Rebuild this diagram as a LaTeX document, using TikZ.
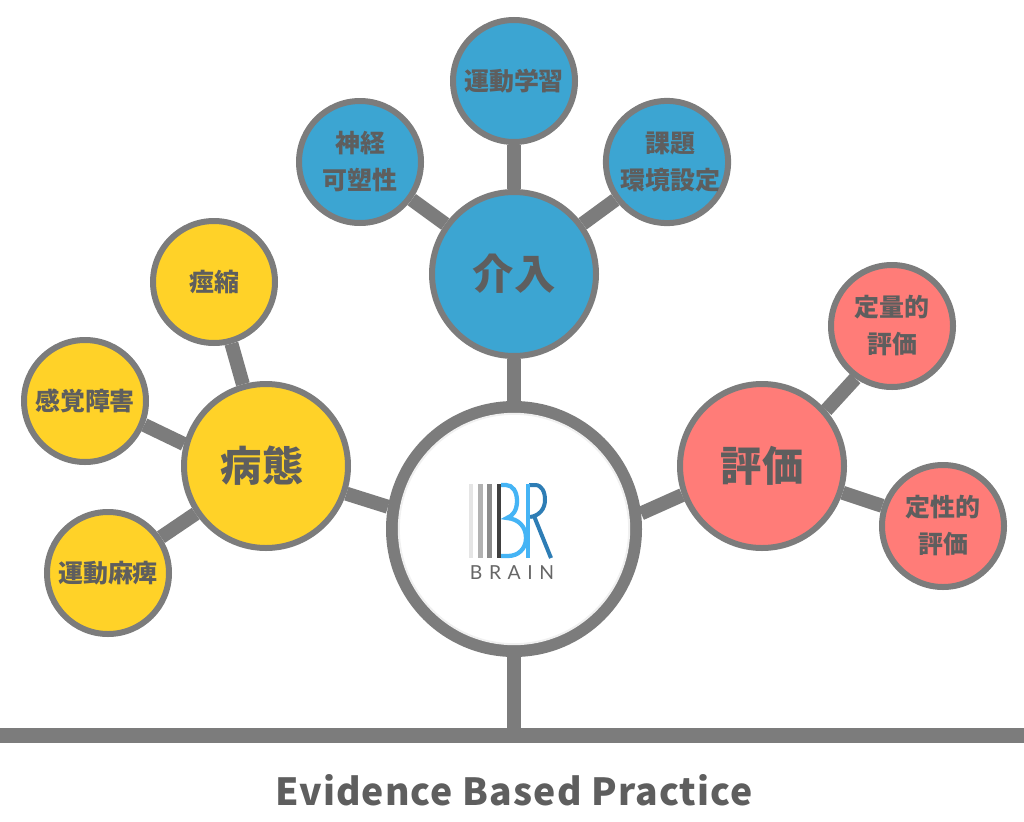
\documentclass[tikz,border=0pt]{standalone}
\usepackage{fontspec}
\setmainfont{Noto Sans CJK JP}
\newfontfamily\logofont[LetterSpace=34]{Lato}
\newfontfamily\titlefont[LetterSpace=3]{Noto Sans CJK JP}
\definecolor{linegray}{HTML}{7C7C7C}
\definecolor{textgray}{HTML}{5E5E5E}
\definecolor{sickyellow}{HTML}{FFD228}
\definecolor{careblue}{HTML}{3CA5D2}
\definecolor{testred}{HTML}{FF7C78}
\definecolor{logolight}{HTML}{45B4F5}
\definecolor{logodark}{HTML}{2E7DB5}
\tikzset{
    hub/.style={circle, draw=linegray, line width=4.5pt, minimum size=123pt, inner sep=0pt, text=textgray, font=\fontsize{31}{36}\selectfont\bfseries},
    leaf/.style={circle, draw=linegray, line width=4.5pt, minimum size=91.5pt, inner sep=0pt, align=center, text=textgray, font=\fontsize{18.7}{27.75}\selectfont\bfseries},
    link/.style={draw=linegray, line width=10.5pt}
}
\begin{document}
\begin{tikzpicture}[x=0.75pt, y=-0.75pt]
        \useasboundingbox (0,0) rectangle (1024,821);

        \coordinate (left) at (0,735);
        \coordinate (right) at (1024,735);
        \coordinate (foot) at (514,735);

        \node (brain) at (514,529) [circle, draw=linegray, line width=9.25pt, minimum size=182.75pt, fill=white] {};
        \draw[black!6, line width=1.5pt] (brain.center) circle [radius=86.4pt];

        \node (sick) at (266,466) [hub, fill=sickyellow] {\hspace*{-6pt}\raisebox{2pt}{病態}};
        \node (care) at (514,274) [hub, fill=careblue] {介入};
        \node (test) at (762,466) [hub, fill=testred] {評価};

        \node (spasm) at (214,282) [leaf, fill=sickyellow] {痙縮};
        \node (sense) at (85,401) [leaf, fill=sickyellow] {感覚障害};
        \node (palsy) at (108,573) [leaf, fill=sickyellow] {運動麻痺};

        \node (motor) at (514,81) [leaf, fill=careblue] {運動学習};
        \node (neuro) at (360,162) [leaf, fill=careblue] {神経\\可塑性};
        \node (task) at (667,162) [leaf, fill=careblue] {\hspace*{5pt}課題\\\hspace*{5pt}環境設定};

        \node (quant) at (892,326) [leaf, fill=testred] {定量的\\評価};
        \node (qual) at (943,526) [leaf, fill=testred] {定性的\\評価};

        \draw[draw=linegray, line width=11.25pt] (left) -- (right);
        \draw[link] (brain) -- (foot);
        \draw[link] (brain.170) -- (sick.-19);
        \draw[link] (brain) -- (care);
        \draw[link] (brain.7) -- (test.200);
        \draw[link] (sick) -- (spasm);
        \draw[link] (sick.165) -- (sense.-22);
        \draw[link] (sick) -- (palsy);
        \draw[link] (care) -- (motor);
        \draw[link] (care) -- (neuro);
        \draw[link] (care) -- (task);
        \draw[link] (test.41) -- (quant.235);
        \draw[link] (test) -- (qual);

        \fill[black!10] (469,484) rectangle (473,558);
        \fill[black!30] (478,484) rectangle (483,558);
        \fill[black!45] (487,484) rectangle (492,558);
        \fill[black!75] (497,484) rectangle (501,558);
        \draw[color=logolight, line width=3.2pt] (501,485) -- (506,485) .. controls (513,485) and (517,492) .. (517,501) .. controls (517,510) and (513,516) .. (507,518) .. controls (519,519) and (526,527) .. (526,538) .. controls (526,549) and (518,556) .. (508,556) -- (501,556);
        \draw[color=logodark, line width=3pt] (529,485) -- (535,485) .. controls (542,485) and (545,492) .. (545,500) .. controls (545,509) and (539,516) .. (530,517);
        \draw[color=logodark, line width=3pt] (534,516) -- (551,558);
        \draw[color=logolight, line width=3pt] (528,484) -- (528,558);
        \node (logotext) at (512,573) [text=black!60, font=\logofont\fontsize{14.5}{16}\selectfont] {BRAIN};

        \node (title) at (514,790) [text=textgray, font=\titlefont\fontsize{28}{34}\selectfont\bfseries] {Evidence Based Practice};
    \end{tikzpicture}
\end{document}
